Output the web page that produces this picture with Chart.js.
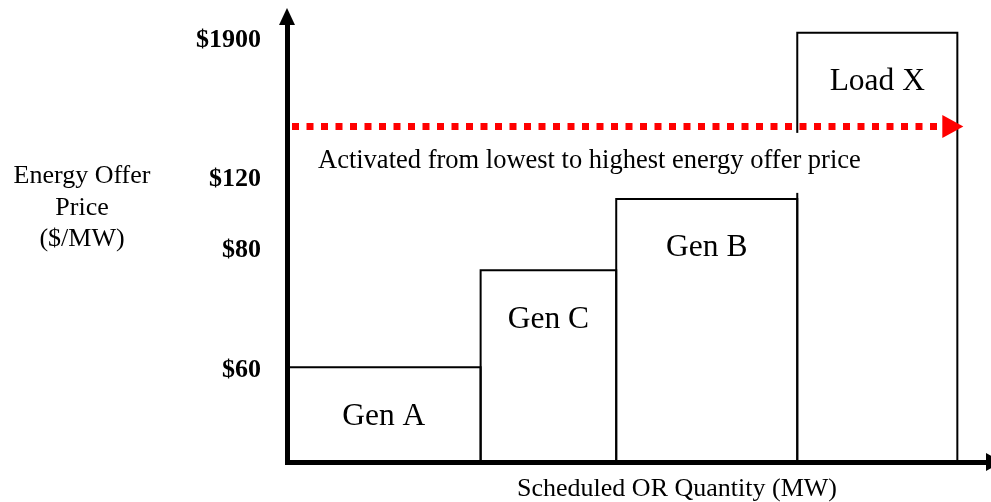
<!DOCTYPE html>
<html>
<head>
<meta charset="utf-8">
<script src="https://cdn.jsdelivr.net/npm/chart.js@4.4.1/dist/chart.umd.min.js"></script>
<style>
  html, body { margin: 0; padding: 0; background: #fff; }
  #wrap { width: 991px; height: 502px; position: relative; }
</style>
</head>
<body>
<div id="wrap"><canvas id="offerChart"></canvas></div>
<script>
// offers, in activation order (schematic units)
const categories = ['Gen A', 'Gen C', 'Gen B', 'Load X'];
const quantityMW = [27.7, 19.4, 25.9, 22.9];
const offerLevel = [21.7, 43.9, 60.2, 98.2];

// price axis: labels sit at their own levels, not at bar tops
const priceTickLevels = [21.0, 48.4, 64.8, 96.4];
const priceTickLabels = ['$60', '$80', '$120', '$1900'];

const activationLevel = 76.8;
const activationText = 'Activated from lowest to highest energy offer price';

const serif = '"Liberation Serif", "Times New Roman", serif';

const starts = [];
let total = 0;
quantityMW.forEach(w => { starts.push(total); total += w; });

const datasets = categories.map((name, i) => {
  const x0 = starts[i], x1 = starts[i] + quantityMW[i];
  return {
    label: name,
    data: [{x: x0, y: 0}, {x: x0, y: offerLevel[i]}, {x: x1, y: offerLevel[i]}, {x: x1, y: 0}],
    borderColor: '#000',
    borderWidth: 2,
    pointRadius: 0,
    fill: false,
    tension: 0
  };
});

const extras = {
  id: 'extras',
  afterDraw(chart) {
    const {ctx, chartArea: a, scales: {x, y}} = chart;
    ctx.save();

    // axis arrow heads
    ctx.fillStyle = '#000';
    ctx.beginPath();
    ctx.moveTo(a.left, 8);
    ctx.lineTo(a.left - 8, a.top);
    ctx.lineTo(a.left + 8, a.top);
    ctx.closePath();
    ctx.fill();
    ctx.beginPath();
    ctx.moveTo(a.right + 17, a.bottom);
    ctx.lineTo(a.right, a.bottom - 9);
    ctx.lineTo(a.right, a.bottom + 9);
    ctx.closePath();
    ctx.fill();

    // activation order arrow
    const ay = y.getPixelForValue(activationLevel);
    const endX = x.getPixelForValue(total);
    ctx.strokeStyle = '#ff0000';
    ctx.lineWidth = 7;
    ctx.setLineDash([7, 7.5]);
    ctx.beginPath();
    ctx.moveTo(a.left + 5, ay);
    ctx.lineTo(endX - 15, ay);
    ctx.stroke();
    ctx.setLineDash([]);
    ctx.fillStyle = '#ff0000';
    ctx.beginPath();
    ctx.moveTo(endX + 6, ay);
    ctx.lineTo(endX - 15, ay - 11.5);
    ctx.lineTo(endX - 15, ay + 11.5);
    ctx.closePath();
    ctx.fill();

    // text box (white backing breaks the Load X edge like the original)
    ctx.fillStyle = '#fff';
    ctx.fillRect(a.left + 25, ay + 6.5, 560, 60);
    ctx.fillStyle = '#000';
    ctx.font = '26.5px ' + serif;
    ctx.textAlign = 'left';
    ctx.textBaseline = 'alphabetic';
    ctx.fillText(activationText, a.left + 31, ay + 41.5);

    // bar labels
    ctx.font = '31.5px ' + serif;
    ctx.textAlign = 'center';
    categories.forEach((name, i) => {
      const cx = x.getPixelForValue(starts[i] + quantityMW[i] / 2);
      const top = y.getPixelForValue(offerLevel[i]);
      ctx.fillText(name, cx, top + 57.5);
    });

    // axis titles
    ctx.font = '26px ' + serif;
    ctx.fillText('Energy Offer', 82, 183);
    ctx.fillText('Price', 82, 215);
    ctx.fillText('($/MW)', 82, 246);
    ctx.fillText('Scheduled OR Quantity (MW)', 677, 496);

    ctx.restore();
  }
};

const noPad = s => {
  s.paddingTop = 0;
  s.paddingBottom = 0;
  s.paddingLeft = 0;
  s.paddingRight = 0;
};

new Chart(document.getElementById('offerChart'), {
  type: 'line',
  data: {datasets},
  options: {
    responsive: true,
    maintainAspectRatio: false,
    animation: false,
    layout: {padding: {top: 25, right: 5, bottom: 0, left: 0}},
    plugins: {
      legend: {display: false},
      tooltip: {enabled: false}
    },
    scales: {
      x: {
        type: 'linear',
        min: 0,
        max: 100,
        grid: {display: false, drawTicks: false},
        ticks: {display: false},
        border: {display: true, color: '#000', width: 5},
        afterFit: s => { s.height = 40; noPad(s); }
      },
      y: {
        type: 'linear',
        min: 0,
        max: 100,
        grid: {display: false, drawTicks: false},
        border: {display: true, color: '#000', width: 5},
        afterBuildTicks: s => { s.ticks = priceTickLevels.map(v => ({value: v})); },
        ticks: {
          autoSkip: false,
          padding: 26,
          color: '#000',
          font: {family: serif, size: 26, weight: 'bold'},
          callback: (v, i) => priceTickLabels[i]
        },
        afterFit: s => { s.width = 287; noPad(s); }
      }
    }
  },
  plugins: [extras]
});
</script>
</body>
</html>
